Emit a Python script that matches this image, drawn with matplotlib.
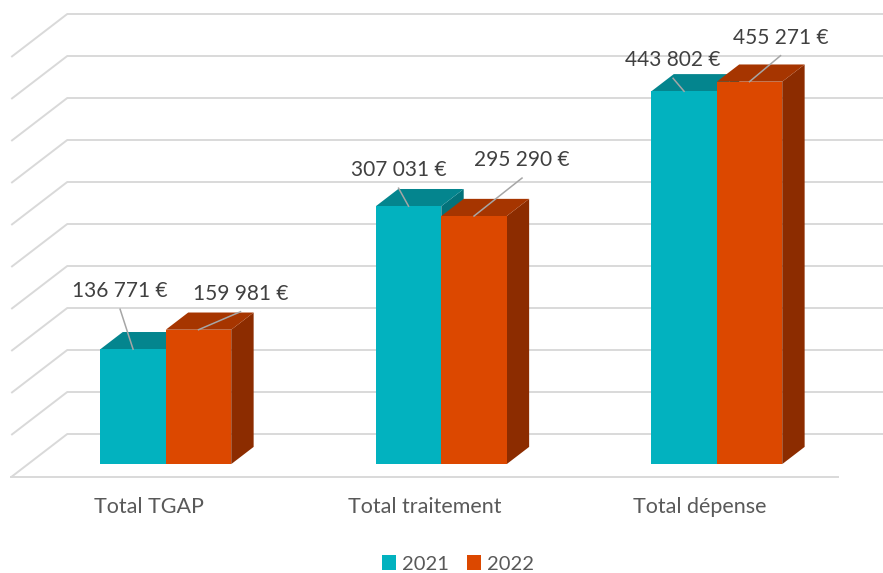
import matplotlib
matplotlib.use("Agg")
import matplotlib.pyplot as plt
from matplotlib.patches import Polygon, Patch

# ---- data ----
categories = ["Total TGAP", "Total traitement", "Total dépense"]
series_names = ["2021", "2022"]
values_2021 = [136771, 307031, 443802]
values_2022 = [159981, 295290, 455271]
value_labels_2021 = ["136 771 €", "307 031 €", "443 802 €"]
value_labels_2022 = ["159 981 €", "295 290 €", "455 271 €"]
y_max = 500000
y_step = 50000

# ---- style / layout ----
front_cols = ["#02B2BF", "#DC4800"]
top_cols = ["#04858E", "#A63500"]
side_cols = ["#03727A", "#8C2C00"]
grid_col = "#D9D9D9"
FONT = ["Lato", "DejaVu Sans"]

W, H = 883, 573
PX_X = 275.5            # pixels per category unit
PX_V = 42 / 50000       # pixels per value unit
X0, Y0 = 149, 477       # pixel of (cat 0 - depth 0, value 0)
DX = 56 / PX_X          # full depth offset in x data
DY = 43 / PX_V          # full depth offset in value data
D0, D1 = 0.3, 0.7       # bar depth range
BW = 0.2375             # bar width

fig = plt.figure(figsize=(W / 100, H / 100), dpi=100)
ax = fig.add_axes([0, 0, 1, 1])
ax.set_xlim(-X0 / PX_X, (W - X0) / PX_X)
ax.set_ylim(-(H - Y0) / PX_V, Y0 / PX_V)
ax.axis("off")

n = len(categories)
xl, xr = -0.5, n - 0.5

# back wall grid + left wall diagonals
v = 0
while v <= y_max:
    ax.plot([xl, xl + DX, xr + DX + 1], [v, v + DY, v + DY],
            color=grid_col, lw=1.4, zorder=1, solid_capstyle="butt")
    v += y_step
# floor front edge
ax.plot([xl, xr], [0, 0], color=grid_col, lw=1.4, zorder=1)

series = [values_2021, values_2022]
labels = [value_labels_2021, value_labels_2022]
# label offsets in pixels (label centre relative to bar front-top centre)
label_off = [[(-13, 58), (-10, 36), (-11, 31)],
             [(42, 36), (48, 56), (31, 44)]]

dd = D1 - D0
for i in range(n):
    for s in range(2):
        val = series[s][i]
        left = i + D0 * DX + (s - 1) * BW
        base = D0 * DY
        z = 3 + i * 3 + s
        # side face
        side = Polygon([(left + BW, base), (left + BW + dd * DX, base + dd * DY),
                        (left + BW + dd * DX, base + dd * DY + val), (left + BW, base + val)],
                       closed=True, facecolor=side_cols[s], edgecolor="none", zorder=z)
        ax.add_patch(side)
        # top face
        top = Polygon([(left, base + val), (left + BW, base + val),
                       (left + BW + dd * DX, base + val + dd * DY), (left + dd * DX, base + val + dd * DY)],
                      closed=True, facecolor=top_cols[s], edgecolor="none", zorder=z)
        ax.add_patch(top)
        # front face
        ax.bar(left, val, width=BW, bottom=base, align="edge",
               color=front_cols[s], edgecolor="none", zorder=z)

# value labels with leader lines
for s in range(2):
    for i in range(n):
        val = series[s][i]
        ax_x = i + D0 * DX + (s - 1) * BW + BW / 2
        ax_y = D0 * DY + val
        ox, oy = label_off[s][i]
        lx = ax_x + ox / PX_X
        ly = ax_y + oy / PX_V
        ax.plot([ax_x, lx], [ax_y, ly - 18 / PX_V], color="#A6A6A6", lw=1.1, zorder=20)
        ax.text(lx, ly, labels[s][i], ha="center", va="center", fontsize=15,
                color="#404040", family=FONT, zorder=21)

# category labels
for i, c in enumerate(categories):
    ax.text(i, -30 / PX_V, c, ha="center", va="center", fontsize=15.5,
            color="#595959", family=FONT)

# legend
handles = [Patch(facecolor=front_cols[k], edgecolor="none", label=series_names[k]) for k in range(2)]
leg = fig.legend(handles=handles, loc="center", bbox_to_anchor=(458 / W, 1 - 564 / H),
                 ncol=2, frameon=False, handlelength=0.7, handleheight=0.7,
                 handletextpad=0.3, columnspacing=0.9,
                 prop={"family": FONT, "size": 14.5})
for t in leg.get_texts():
    t.set_color("#595959")

fig.savefig("out.png", dpi=100)
